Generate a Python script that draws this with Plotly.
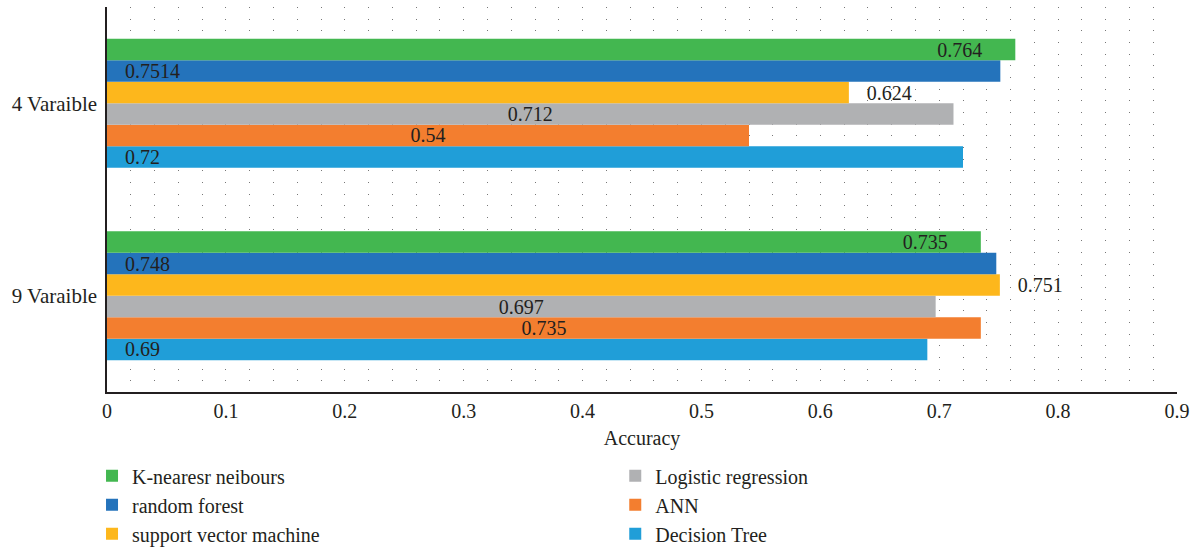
import plotly.graph_objects as go

categories = ["4 Varaible", "9 Varaible"]
series_names = ["K-nearesr neibours", "random forest", "support vector machine",
                "Logistic regression", "ANN", "Decision Tree"]
knn = [0.764, 0.735]
rf = [0.7514, 0.748]
svm = [0.624, 0.751]
lr = [0.712, 0.697]
ann = [0.54, 0.735]
dt = [0.72, 0.69]
x_ticks = [0, 0.1, 0.2, 0.3, 0.4, 0.5, 0.6, 0.7, 0.8, 0.9]
x_tick_labels = ["0", "0.1", "0.2", "0.3", "0.4", "0.5", "0.6", "0.7", "0.8", "0.9"]

colors = ["#43B750", "#2473BB", "#FDB71C", "#B0B1B3", "#F37E2F", "#209ED8"]
values = [knn, rf, svm, lr, ann, dt]
NB = "\u00a0"
placement = [
    ("inside", "end", "", NB * 6),
    ("inside", "start", NB * 3, ""),
    ("outside", "start", NB * 3, ""),
    ("inside", "middle", "", ""),
    ("inside", "middle", "", ""),
    ("inside", "start", NB * 3, ""),
]
legend_of = ["legend", "legend", "legend", "legend2", "legend2", "legend2"]
rank = [1, 2, 3, 1, 2, 3]

FONT = "Liberation Serif"
TXT = "#231F20"
FS = 20

fig = go.Figure()
for i in reversed(range(6)):
    pos, anchor, pre, suf = placement[i]
    fig.add_trace(go.Bar(
        y=categories, x=values[i], orientation="h", name=series_names[i],
        marker=dict(color=colors[i], line=dict(width=0)),
        text=[pre + str(v) + suf for v in values[i]],
        textposition=pos, insidetextanchor=anchor,
        textfont=dict(family=FONT, size=FS, color=TXT),
        constraintext="none", cliponaxis=False,
        legend=legend_of[i], legendrank=rank[i],
        hoverinfo="skip",
    ))

fig.update_layout(
    width=1200, height=548,
    margin=dict(l=107, r=23, t=7, b=156, autoexpand=False),
    barmode="group", bargap=0.33, bargroupgap=0,
    plot_bgcolor="white", paper_bgcolor="white",
    font=dict(family=FONT, size=FS, color=TXT),
    xaxis=dict(
        range=[0, 0.9], tickvals=x_ticks, ticktext=x_tick_labels,
        showline=True, linecolor="#231F20", linewidth=1.5,
        showgrid=True, gridcolor="#777", gridwidth=1, griddash="1px,10.67px",
        minor=dict(dtick=0.02, showgrid=True, gridcolor="#777", gridwidth=1,
                   griddash="1px,10.67px"),
        zeroline=False, ticks="", ticklabelstandoff=0,
        title=dict(text="Accuracy", font=dict(family=FONT, size=FS, color=TXT), standoff=10),
        tickfont=dict(family=FONT, size=FS, color=TXT),
    ),
    yaxis=dict(
        categoryorder="array", categoryarray=categories[::-1],
        showline=True, linecolor="#231F20", linewidth=1.5,
        showgrid=False, zeroline=False, ticks="", ticklabelstandoff=4,
        tickfont=dict(family=FONT, size=21, color=TXT),
    ),
    legend=dict(x=-0.014, y=-0.167, xanchor="left", yanchor="top", orientation="v",
                font=dict(family=FONT, size=20, color=TXT), itemwidth=30,
                traceorder="normal", bgcolor="rgba(0,0,0,0)"),
    legend2=dict(x=0.475, y=-0.167, xanchor="left", yanchor="top", orientation="v",
                 font=dict(family=FONT, size=20, color=TXT), itemwidth=30,
                 traceorder="normal", bgcolor="rgba(0,0,0,0)"),
)

fig.write_html("out.html", config={"displayModeBar": False},
               post_script="document.body.style.margin='0';")
